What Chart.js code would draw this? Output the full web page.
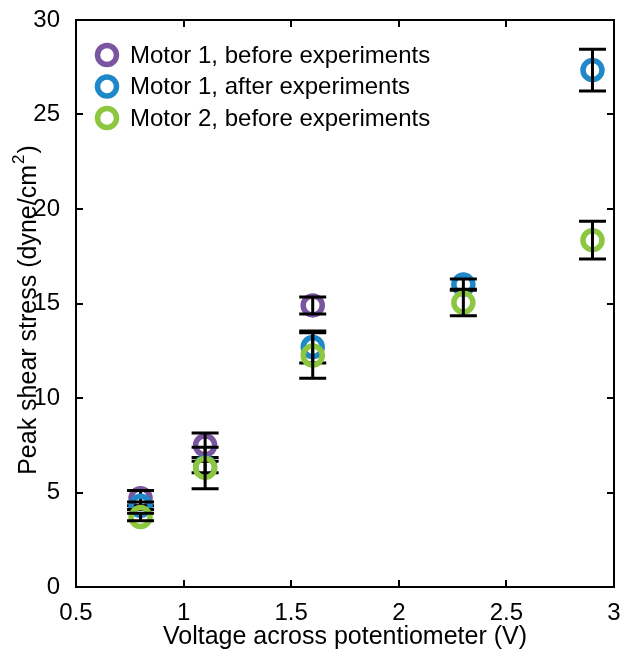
<!DOCTYPE html>
<html>
<head>
<meta charset="utf-8">
<script src="https://cdn.jsdelivr.net/npm/chart.js@4.4.1/dist/chart.umd.min.js"></script>
<style>
  html, body { margin: 0; padding: 0; background: #ffffff; }
  #wrap { width: 620px; height: 650px; }
</style>
</head>
<body>
<div id="wrap"><canvas id="c" width="620" height="650"></canvas></div>
<script>
// Peak shear stress versus potentiometer voltage, per motor condition
const xTicks = [0.5, 1, 1.5, 2, 2.5, 3];
const yTicks = [0, 5, 10, 15, 20, 25, 30];

const m1BeforeV   = [0.8, 1.1, 1.6];
const m1BeforeY   = [4.7, 7.5, 14.9];
const m1BeforeErr = [0.4, 0.65, 0.45];

const m1AfterV    = [0.8, 1.1, 1.6, 2.3, 2.9];
const m1AfterY    = [4.3, 6.35, 12.7, 16.0, 27.35];
const m1AfterErr  = [0.2, 0.3, 0.85, 0.3, 1.1];

const m2BeforeV   = [0.8, 1.1, 1.6, 2.3, 2.9];
const m2BeforeY   = [3.7, 6.3, 12.25, 15.05, 18.35];
const m2BeforeErr = [0.2, 1.1, 1.2, 0.7, 1.0];

const seriesLabels = ['Motor 1, before experiments', 'Motor 1, after experiments', 'Motor 2, before experiments'];
const seriesColors = ['#7A55A0', '#1F88C9', '#8DC63F'];

const FONT = '"Liberation Sans", Arial, sans-serif';
const FS = 24;
const TITLE_FS = 25;

function pts(xs, ys, es) {
  return xs.map((x, i) => ({ x: x, y: ys[i], err: es[i] }));
}

function ds(i, data) {
  return {
    label: seriesLabels[i],
    data: data,
    order: seriesLabels.length - i,   // later series drawn on top
    showLine: false,
    pointRadius: 9.5,
    pointHoverRadius: 9.5,
    pointBorderWidth: 5.5,
    pointBackgroundColor: 'rgba(0,0,0,0)',
    pointBorderColor: seriesColors[i],
    borderColor: seriesColors[i]
  };
}

// Error bars drawn right after each series' markers
const errorBars = {
  id: 'errorBars',
  afterDatasetDraw(chart, args) {
    const ctx = chart.ctx;
    const xs = chart.scales.x, ys = chart.scales.y;
    const d = chart.data.datasets[args.index];
    ctx.save();
    ctx.strokeStyle = '#000';
    ctx.lineWidth = 3;
    ctx.lineCap = 'butt';
    d.data.forEach(p => {
      const px = xs.getPixelForValue(p.x);
      const top = ys.getPixelForValue(p.y + p.err);
      const bot = ys.getPixelForValue(p.y - p.err);
      const half = 13.5;
      ctx.beginPath();
      ctx.moveTo(px, top); ctx.lineTo(px, bot);
      ctx.moveTo(px - half, top); ctx.lineTo(px + half, top);
      ctx.moveTo(px - half, bot); ctx.lineTo(px + half, bot);
      ctx.stroke();
    });
    ctx.restore();
  }
};

// Box frame, inward ticks, legend and y-axis title
const frame = {
  id: 'frame',
  afterDraw(chart) {
    const ctx = chart.ctx;
    const a = chart.chartArea;
    const xs = chart.scales.x, ys = chart.scales.y;
    ctx.save();
    ctx.strokeStyle = '#000';
    ctx.lineWidth = 2;
    ctx.strokeRect(a.left, a.top, a.right - a.left, a.bottom - a.top);
    const tl = 7;
    ctx.beginPath();
    xTicks.forEach(v => {
      const px = Math.round(xs.getPixelForValue(v));
      ctx.moveTo(px, a.bottom); ctx.lineTo(px, a.bottom - tl);
      ctx.moveTo(px, a.top); ctx.lineTo(px, a.top + tl);
    });
    yTicks.forEach(v => {
      const py = Math.round(ys.getPixelForValue(v));
      ctx.moveTo(a.left, py); ctx.lineTo(a.left + tl, py);
      ctx.moveTo(a.right, py); ctx.lineTo(a.right - tl, py);
    });
    ctx.stroke();

    // legend
    ctx.font = FS + 'px ' + FONT;
    ctx.textBaseline = 'middle';
    ctx.textAlign = 'left';
    chart.data.datasets.forEach((d, i) => {
      const y = 55 + i * 31.5;
      ctx.beginPath();
      ctx.lineWidth = 5.5;
      ctx.strokeStyle = d.pointBorderColor;
      ctx.arc(107, y, 9.5, 0, Math.PI * 2);
      ctx.stroke();
      ctx.fillStyle = '#000';
      ctx.fillText(d.label, 130, y + 1);
    });

    // y-axis title with superscript
    ctx.translate(29, 310);
    ctx.rotate(-Math.PI / 2);
    ctx.fillStyle = '#000';
    const main = 'Peak shear stress (dyne/cm';
    const sup = '2';
    const tail = ')';
    ctx.font = TITLE_FS + 'px ' + FONT;
    const wMain = ctx.measureText(main).width;
    const wTail = ctx.measureText(tail).width;
    ctx.font = '17px ' + FONT;
    const wSup = ctx.measureText(sup).width;
    const total = wMain + wSup + wTail + 2;
    let x0 = -total / 2;
    ctx.textBaseline = 'middle';
    ctx.font = TITLE_FS + 'px ' + FONT;
    ctx.fillText(main, x0, 0);
    ctx.font = '17px ' + FONT;
    ctx.fillText(sup, x0 + wMain + 1, -10);
    ctx.font = TITLE_FS + 'px ' + FONT;
    ctx.fillText(tail, x0 + wMain + wSup + 2, 0);
    ctx.restore();
  }
};

new Chart(document.getElementById('c'), {
  type: 'scatter',
  data: {
    datasets: [
      ds(0, pts(m1BeforeV, m1BeforeY, m1BeforeErr)),
      ds(1, pts(m1AfterV, m1AfterY, m1AfterErr)),
      ds(2, pts(m2BeforeV, m2BeforeY, m2BeforeErr))
    ]
  },
  options: {
    responsive: false,
    animation: false,
    layout: { autoPadding: false, padding: { top: 20, right: 6, left: 0, bottom: 0 } },
    plugins: { legend: { display: false }, tooltip: { enabled: false } },
    scales: {
      x: {
        type: 'linear',
        min: 0.5, max: 3,
        afterBuildTicks(s) { s.ticks = xTicks.map(v => ({ value: v })); },
        afterFit(s) { s.height = 63; s.paddingRight = 0; s.paddingLeft = 0; },
        grid: { display: false },
        border: { display: false },
        ticks: {
          color: '#000',
          font: { family: FONT, size: FS },
          padding: 4,
          maxRotation: 0,
          autoSkip: false,
          callback: v => String(v)
        },
        title: {
          display: true,
          text: 'Voltage across potentiometer (V)',
          color: '#000',
          font: { family: FONT, size: TITLE_FS },
          padding: { top: 3, bottom: -2 }
        }
      },
      y: {
        type: 'linear',
        min: 0, max: 30,
        afterBuildTicks(s) { s.ticks = yTicks.map(v => ({ value: v })); },
        afterFit(s) { s.width = 76; s.paddingTop = 0; s.paddingBottom = 0; },
        grid: { display: false },
        border: { display: false },
        ticks: {
          color: '#000',
          font: { family: FONT, size: FS },
          padding: 8,
          callback: v => String(v)
        }
      }
    }
  },
  plugins: [errorBars, frame]
});
</script>
</body>
</html>
